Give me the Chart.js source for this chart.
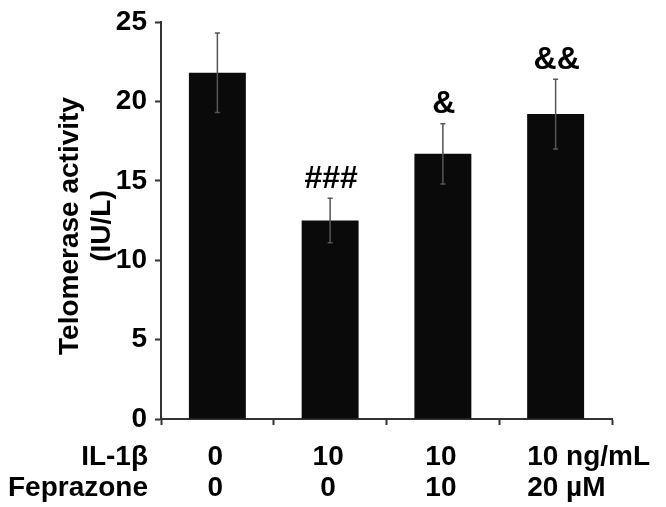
<!DOCTYPE html>
<html>
<head>
<meta charset="utf-8">
<script src="https://cdn.jsdelivr.net/npm/chart.js@4.4.0/dist/chart.umd.min.js"></script>
<style>
  html, body { margin: 0; padding: 0; background: #fff; }
  canvas { display: block; }
</style>
</head>
<body>
<canvas id="grafico" width="666" height="507"></canvas>
<script>
// datos del grafico
var grupos = ['Control', 'IL-1β', 'IL-1β + Feprazone 10', 'IL-1β + Feprazone 20'];
var actividad = [21.8, 12.5, 16.7, 19.2];
var errorActividad = [2.5, 1.4, 1.9, 2.2];
var significancia = ['', '###', '&', '&&'];
var filaIL1b = ['0', '10', '10', '10 ng/mL'];
var filaFeprazone = ['0', '0', '10', '20 µM'];
var nombresFilas = ['IL-1β', 'Feprazone'];
var tituloY = ['Telomerase activity', '(IU/L)'];
var ticksY = [0, 5, 10, 15, 20, 25];

var fuente = '"Liberation Sans", Arial, Helvetica, sans-serif';

// dibuja barras de error, simbolos, titulo y filas de abajo
var extras = {
    id: 'extras',
    afterDatasetsDraw: function (chart) {
        var ctx = chart.ctx;
        var y = chart.scales.y;
        var meta = chart.getDatasetMeta(0);
        ctx.save();
        ctx.strokeStyle = '#555';
        ctx.lineWidth = 1.5;
        meta.data.forEach(function (barra, i) {
            var arriba = y.getPixelForValue(actividad[i] + errorActividad[i]);
            var abajo = y.getPixelForValue(actividad[i] - errorActividad[i]);
            ctx.beginPath();
            ctx.moveTo(barra.x, arriba);
            ctx.lineTo(barra.x, abajo);
            ctx.moveTo(barra.x - 2.5, arriba);
            ctx.lineTo(barra.x + 2.5, arriba);
            ctx.moveTo(barra.x - 2.5, abajo);
            ctx.lineTo(barra.x + 2.5, abajo);
            ctx.stroke();
        });
        // simbolos de significancia
        ctx.fillStyle = '#000';
        ctx.font = 'bold 32px ' + fuente;
        ctx.textAlign = 'center';
        ctx.textBaseline = 'middle';
        meta.data.forEach(function (barra, i) {
            if (!significancia[i]) return;
            var arriba = y.getPixelForValue(actividad[i] + errorActividad[i]);
            ctx.fillText(significancia[i], barra.x + 1, arriba - 19);
        });
        ctx.restore();
    },
    afterDraw: function (chart) {
        var ctx = chart.ctx;
        var area = chart.chartArea;
        var meta = chart.getDatasetMeta(0);
        var fila1 = area.bottom + 38;
        var fila2 = area.bottom + 69;
        ctx.save();
        ctx.fillStyle = '#000';
        ctx.font = 'bold 28px ' + fuente;
        ctx.textBaseline = 'middle';
        ctx.textAlign = 'right';
        ctx.fillText(nombresFilas[0], area.left - 13, fila1);
        ctx.fillText(nombresFilas[1], area.left - 13, fila2);
        meta.data.forEach(function (barra, i) {
            if (i === meta.data.length - 1) {
                ctx.textAlign = 'left';
                ctx.fillText(filaIL1b[i], barra.x - barra.width / 2, fila1);
                ctx.fillText(filaFeprazone[i], barra.x - barra.width / 2, fila2);
            } else {
                ctx.textAlign = 'center';
                ctx.fillText(filaIL1b[i], barra.x - 2, fila1);
                ctx.fillText(filaFeprazone[i], barra.x - 2, fila2);
            }
        });
        // titulo del eje y
        ctx.translate(0, 226);
        ctx.rotate(-Math.PI / 2);
        ctx.textAlign = 'center';
        ctx.fillText(tituloY[0], 0, 70);
        ctx.fillText(tituloY[1], 0, 102);
        ctx.restore();
    }
};

var ctx = document.getElementById('grafico').getContext('2d');
var myChart = new Chart(ctx, {
    type: 'bar',
    data: {
        labels: grupos,
        datasets: [{
            data: actividad,
            backgroundColor: '#0a0a0a',
            borderWidth: 0,
            barPercentage: 0.505,
            categoryPercentage: 1
        }]
    },
    options: {
        responsive: false,
        animation: false,
        layout: { padding: { left: 50, right: 54, top: 12, bottom: 0 } },
        plugins: {
            legend: { display: false },
            tooltip: { enabled: false }
        },
        scales: {
            x: {
                offset: true,
                ticks: { display: false },
                grid: { offset: true, drawOnChartArea: false, drawTicks: true, tickLength: 6, tickColor: '#333', tickWidth: 2 },
                border: { color: '#333', width: 2 },
                afterFit: function (s) { s.height = 88; }
            },
            y: {
                min: ticksY[0],
                max: ticksY[ticksY.length - 1],
                afterBuildTicks: function (s) {
                    s.ticks = ticksY.map(function (v) { return { value: v }; });
                },
                ticks: {
                    color: '#000',
                    padding: 8,
                    font: { family: fuente, size: 28, weight: 'bold', lineHeight: 1 }
                },
                grid: { drawOnChartArea: false, drawTicks: true, tickLength: 6, tickColor: '#333', tickWidth: 2 },
                border: { color: '#333', width: 2 },
                afterFit: function (s) { s.width = 111; }
            }
        }
    },
    plugins: [extras]
});
</script>
</body>
</html>
